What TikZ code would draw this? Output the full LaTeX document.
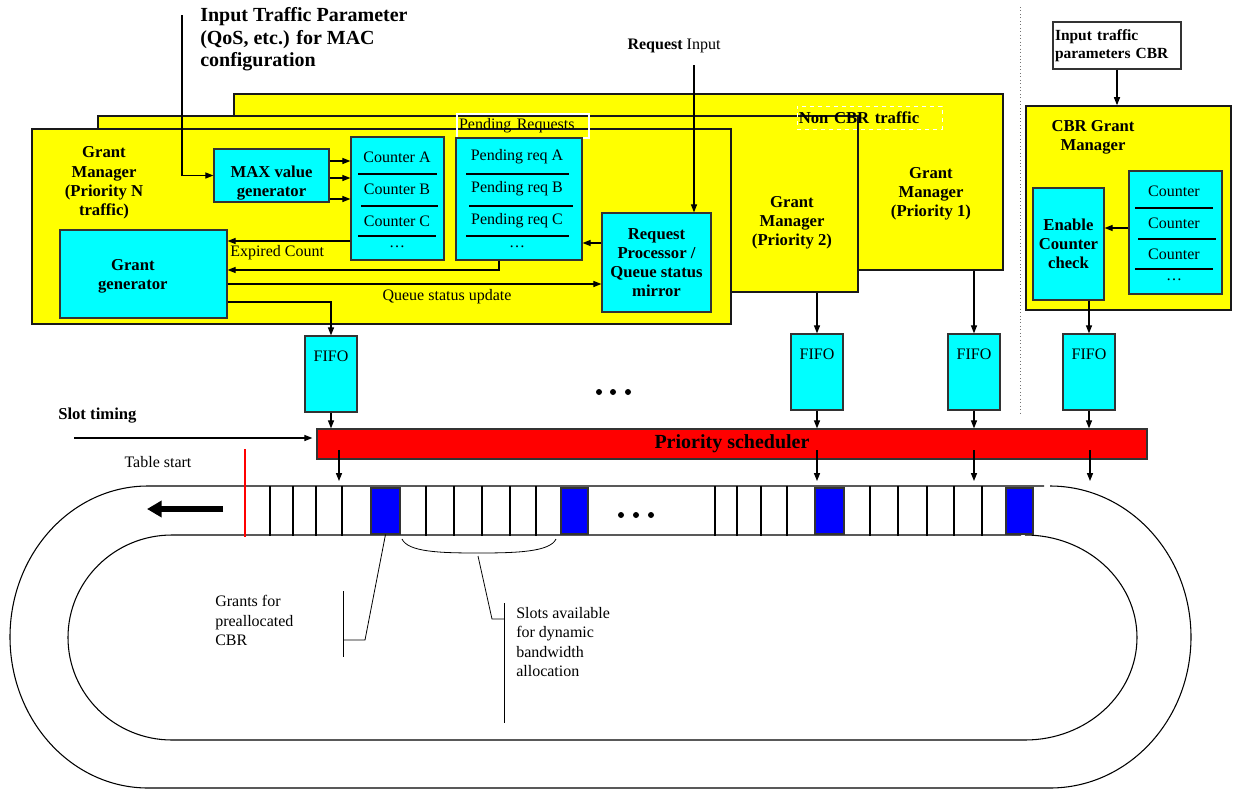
\documentclass[tikz,border=0pt]{standalone}
\usepackage{fontspec}
\setmainfont{Liberation Serif}
\usetikzlibrary{arrows.meta}
\usetikzlibrary{calc}
\definecolor{mgryellow}{RGB}{255,255,0}
\definecolor{blkcyan}{RGB}{0,255,255}
\definecolor{schedred}{RGB}{255,0,0}
\definecolor{grantblue}{RGB}{0,0,255}
\newcommand{\fsn}{\fontsize{12}{14.6}\selectfont}
\newcommand{\fsb}{\fontsize{12.5}{14.4}\selectfont\bfseries}
\newcommand{\rowrule}[3]{
\draw[line width=1pt] (#1,#3) -- (#2,#3);
}
\tikzset{
  sz/.style 2 args={minimum width=#1*0.75pt, minimum height=#2*0.75pt},
  mgr/.style={draw=black!90, fill=mgryellow, line width=1.2pt, inner sep=0pt},
  blk/.style={draw=black!80, fill=blkcyan, line width=1pt, inner sep=0pt, align=center, font=\fsb},
  lbl/.style={inner sep=0pt, align=center, font=\fsb},
  txt/.style={inner sep=0pt, align=left, font=\fsn},
  conn/.style={->, line width=0.8pt},
  fifo/.style={blk, sz={52}{76}, label={[anchor=north, inner sep=0pt, font=\fsn, yshift=-11.8pt]north:FIFO}},
  grant/.style={draw=black!80, fill=grantblue, line width=0.8pt, inner sep=0pt},
  track/.style={line width=0.8pt},
}

\begin{document}
\begin{tikzpicture}[x=0.75pt, y=-0.75pt, font=\fsn, >={Triangle[length=6pt,width=4.6pt]}]
\useasboundingbox (0,0) rectangle (1233,793);

% grant managers, non CBR traffic
\node[mgr, sz={769}{176}] (gm1) at (618.5,182) {};
\node[mgr, sz={760}{176}] (gm2) at (478,204) {};
\node[mgr, sz={699}{195}] (gmN) at (381.5,226.5) {};
\node[lbl] (gm1txt) at (931,194) {Grant\\Manager\\(Priority 1)};
\node[lbl] (gm2txt) at (792,223) {Grant\\Manager\\(Priority 2)};
\node[lbl] (gmNtxt) at (104,183) {Grant\\Manager\\(Priority N\\traffic)};
\node[draw=white, dashed, line width=0.6pt, inner sep=0pt, sz={145}{23}, text width=106pt, align=left, font=\fsb] (noncbr) at (869.5,117.5) {Non CBR traffic};
\node[draw=white, line width=0.8pt, inner sep=0pt, sz={132}{24}, text width=96pt, align=left] (pendtxt) at (523,126) {Pending Requests};

\node[font=\fontsize{15}{17}\selectfont\bfseries, anchor=north west, align=left, inner sep=0pt] (qostxt) at (200,7) {Input Traffic Parameter\\(QoS, etc.) for MAC\\configuration};
\coordinate (qosin) at (182,15);

\node[blk, sz={115}{53}, label={[lbl, yshift=-5.6pt]center:MAX value\\generator}] (maxgen) at (271.5,175.5) {};
\node[blk, sz={93}{123}] (cnt) at (397.5,198.5) {};
\node[blk, sz={126}{122}] (pend) at (519,199) {};
\node[blk, sz={167}{88}, label={[lbl, xshift=-8pt, yshift=-1.5pt]center:Grant\\generator}] (ggen) at (143.5,274) {};
\node[blk, sz={109}{99}] (reqp) at (656.5,262.5) {Request\\Processor /\\Queue status\\mirror};

\foreach \y/\t [count=\i] in {157/Counter A, 189/Counter B, 221/Counter C, 247/\ldots}
  \node (cnt\i) at (397,\y) {\t};
\foreach \y/\t [count=\i] in {157/Pending req A, 189/Pending req B, 221/Pending req C, 247/\ldots}
  \node (pend\i) at (517,\y) {\t};
\foreach \a/\b/\y in {358/437/174, 361/438/206, 358/436/236} {\rowrule{\a}{\b}{\y}}
\foreach \a/\b/\y in {466/569/174, 469/573/206, 466/569/236} {\rowrule{\a}{\b}{\y}}

\foreach \y in {161,178,199}
  \draw[conn] (maxgen.east |- 0,\y) -- (cnt.west |- 0,\y);
\draw[conn] (qosin) |- (maxgen.west);
\draw[conn] (cnt.west |- 0,241) -- (ggen.east |- 0,241);
\node[anchor=west, inner sep=0pt] (expired) at (230,253) {Expired Count};
\draw[conn] (pend.south -| 499,0) |- (ggen.east |- 0,270);
\draw[conn] (ggen.east |- 0,284) -- (reqp.west |- 0,284);
\node[inner sep=0pt] (qsupd) at (447,297) {Queue status update};
\draw[conn] (reqp.west |- 0,243) -- (pend.east |- 0,243);

\node[inner sep=0pt] (reqtxt) at (674,46) {\textbf{Request} Input};
\coordinate (reqin) at (694,65);
\draw[conn] (reqin) -- (reqin |- reqp.north);

% CBR part
\draw[dotted, black!55, line width=0.6pt] (1020,7) -- (1020,413);
\node[draw=black!80, line width=1pt, inner sep=0pt, sz={128}{47}, text width=93pt, align=left, font=\fontsize{11.6}{13.8}\selectfont\bfseries] (cbrin) at (1117,45.5) {Input traffic\\parameters CBR};
\node[mgr, sz={205}{204}] (cbrmgr) at (1128.5,208) {};
\node[lbl] (cbrtxt) at (1093,137) {CBR Grant\\Manager};
\node[blk, sz={71}{112}] (enable) at (1068.5,244) {Enable\\Counter\\check};
\node[blk, sz={93}{123}] (ccnt) at (1175.5,232.5) {};
\foreach \y/\t [count=\i] in {191/Counter, 223/Counter, 254/Counter, 280/\ldots}
  \node (ccnt\i) at (1174,\y) {\t};
\foreach \a/\b/\y in {1135/1213/208, 1138/1216/239, 1135/1213/269} {\rowrule{\a}{\b}{\y}}
\draw[conn] (cbrin.south) -- (cbrin.south |- cbrmgr.north);
\draw[conn] (ccnt.west |- 0,228) -- (enable.east |- 0,228);

% FIFOs and scheduler
\foreach \n/\x/\t in {1/331/374, 2/817/372, 3/974/372, 4/1089/372}
  \node[fifo] (fifo\n) at (\x,\t) {};
\draw[conn] (ggen.east |- 0,302) -| (fifo1.north);
\draw[conn] (gm2.south -| fifo2.north) -- (fifo2.north);
\draw[conn] (gm1.south -| fifo3.north) -- (fifo3.north);
\draw[conn] (enable.south -| fifo4.north) -- (fifo4.north);

\node[draw=black!80, fill=schedred, line width=1pt, inner sep=0pt, sz={830}{30}, font=\fontsize{15}{17}\selectfont\bfseries] (sched) at (732,444) {Priority scheduler};
\foreach \n in {1,2,3,4}
  \draw[conn] (fifo\n.south) -- (fifo\n.south |- sched.north);

\foreach \x in {599,613,628} \fill (\x,392) circle[radius=3];

\node[anchor=west, inner sep=0pt, font=\fsb] (slottxt) at (58,416) {Slot timing};
\coordinate (slotin) at (74,438);
\draw[conn, shorten >=3pt] (slotin) -- (sched.west |- slotin);

\foreach \x [count=\i] in {339,817,974,1090} {
  \coordinate (feed\i) at (\x,481);
  \draw[conn] ($(sched.center -| feed\i)+(0,6)$) -- (feed\i);
}

% slot ring
\draw[track] (1050,486) arc[start angle=-90, end angle=90, x radius=141, y radius=151]
  -- (148,788) arc[start angle=90, end angle=270, x radius=138, y radius=151] -- (1044,486);
\draw[track] (1025,535) arc[start angle=-90, end angle=90, x radius=112, y radius=102.5]
  -- (172,740) arc[start angle=90, end angle=270, x radius=104, y radius=102.5] -- (1021,535);
\foreach \x in {270,293,316,342,426,454,482,510,536,715,737,761,787,870,898,927,954,982}
  \draw[line width=0.8pt] (\x,486) -- (\x,536);
\foreach \n/\a/\b in {1/371/400, 2/561/588, 3/815/844, 4/1006/1033}
  \node[grant, sz={(\b-\a)}{46}] (grant\n) at ({(\a+\b)/2},511) {};
\foreach \x in {621,636,651} \fill (\x,515) circle[radius=3];

\draw[schedred, line width=2.2pt] (245,449) -- (245,537);
\node[inner sep=0pt] (tabstart) at (158,462) {Table start};
\coordinate (dirfrom) at (223,509);
\coordinate (dirto) at (147,509);
\draw[line width=5pt, -{Triangle[length=11pt,width=12pt]}] (dirfrom) -- (dirto);

% annotations
\coordinate (gknee) at (365,640);
\coordinate (gbar) at (343,640);
\draw[line width=0.6pt] (grant1.south) -- (gknee) -- (gbar);
\draw[line width=0.6pt] (343,591) -- (343,657);
\node[txt, anchor=north west] (granttxt) at (215,595) {Grants for\\preallocated\\CBR};

\coordinate (brmid) at (478,553);
\draw[line width=0.6pt] (402,539) .. controls (408,552) and (440,553) .. (brmid) .. controls (516,553) and (550,552) .. (556,539);
\coordinate (sknee) at (492,619);
\coordinate (sbar) at (504,619);
\draw[line width=0.6pt] (478,556) -- (sknee) -- (sbar);
\draw[line width=0.6pt] (504,603) -- (504,723);
\node[txt, anchor=north west] (slotstxt) at (516,607) {Slots available\\for dynamic\\bandwidth\\allocation};

\end{tikzpicture}
\end{document}
